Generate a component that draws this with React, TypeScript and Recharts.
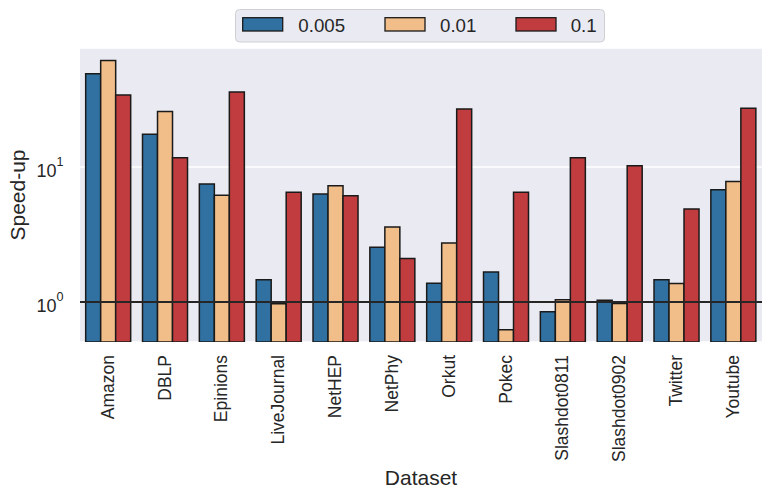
import React from 'react';
import { BarChart, Bar, XAxis, YAxis, CartesianGrid, ReferenceLine, Legend } from 'recharts';

const categories = ['Amazon', 'DBLP', 'Epinions', 'LiveJournal', 'NetHEP', 'NetPhy', 'Orkut', 'Pokec', 'Slashdot0811', 'Slashdot0902', 'Twitter', 'Youtube'];
const s005 = [49.1, 17.5, 7.48, 1.46, 6.31, 2.55, 1.38, 1.67, 0.848, 1.03, 1.46, 6.79];
const s01 = [61.3, 25.7, 6.17, 0.97, 7.27, 3.59, 2.74, 0.624, 1.04, 0.977, 1.37, 7.79];
const s1 = [34.1, 11.7, 35.9, 6.49, 6.13, 2.1, 26.9, 6.49, 11.7, 10.2, 4.89, 27.2];
const seriesNames = ['0.005', '0.01', '0.1'];
const seriesColors = ['#3071A1', '#F1BD89', '#C03C3F'];
const yTicks = [1, 10];
const yTickExp = ['0', '1'];

const data = categories.map((c, i) => ({ name: c, a: s005[i], b: s01[i], c: s1[i] }));

const FONT = '"Liberation Sans", Arial, sans-serif';
const TXT = '#262626';

const YTick = (props: any) => {
  const { y, payload } = props;
  const idx = yTicks.indexOf(payload.value);
  return (
    <text x={63.5} y={y + 9.7} textAnchor="end" fontFamily={FONT} fill={TXT}>
      <tspan fontSize={18}>10</tspan>
      <tspan fontSize={12.6} dy={-11}>{yTickExp[idx]}</tspan>
    </text>
  );
};

const XTick = (props: any) => {
  const { x, payload } = props;
  return (
    <text
      transform={`translate(${x},355) rotate(-90)`}
      textAnchor="end"
      dy="0.3em"
      fontSize={17.5}
      fontFamily={FONT}
      fill={TXT}
    >
      {payload.value}
    </text>
  );
};

const LegendContent = (props: any) => {
  const payload = props.payload || [];
  const sw = [7.7, 150, 281];
  const tx = [63.3, 205, 335.7];
  return (
    <svg width={371} height={34} style={{ display: 'block' }}>
      <rect x={0.5} y={0.5} width={369} height={32.5} rx={4} fill="#EAEAF2" stroke="#cfcfd4" />
      {payload.map((p: any, i: number) => (
        <g key={i}>
          <rect x={sw[i]} y={8.7} width={40} height={13.3} fill={p.color} stroke="#1a1a1a" strokeWidth={1.3} />
          <text x={tx[i]} y={22.7} fontSize={18.7} fontFamily={FONT} fill={TXT}>{p.value}</text>
        </g>
      ))}
    </svg>
  );
};

export default function App() {
  return (
    <div style={{ position: 'absolute', left: 0, top: 0, background: '#ffffff' }}>
      <BarChart
        width={772}
        height={499}
        data={data}
        margin={{ top: 48, right: 10, left: 0, bottom: 0 }}
        barCategoryGap="10%"
        barGap={0}
      >
        <CartesianGrid vertical={false} stroke="#ffffff" strokeWidth={1.5} fill="#EAEAF2" />
        <XAxis
          dataKey="name"
          height={157}
          tickLine={false}
          axisLine={false}
          interval={0}
          tick={<XTick />}
          label={{
            content: (p: any) => (
              <text x={421} y={485} textAnchor="middle" fontSize={21} fontFamily={FONT} fill={TXT}>Dataset</text>
            ),
          }}
        />
        <YAxis
          width={80}
          scale="log"
          type="number"
          domain={[0.506, 76]}
          allowDataOverflow
          ticks={yTicks}
          tickLine={false}
          axisLine={false}
          tick={<YTick />}
          label={{
            content: (p: any) => (
              <text
                transform="translate(25,195) rotate(-90)"
                textAnchor="middle"
                fontSize={21}
                fontFamily={FONT}
                fill={TXT}
              >
                Speed-up
              </text>
            ),
          }}
        />
        <Legend
          layout="vertical"
          align="center"
          verticalAlign="middle"
          wrapperStyle={{ left: 235, top: 9, width: 371, height: 34 }}
          content={<LegendContent />}
        />
        <Bar dataKey="a" name={seriesNames[0]} fill={seriesColors[0]} stroke="#1a1a1a" strokeWidth={1.5} isAnimationActive={false} />
        <Bar dataKey="b" name={seriesNames[1]} fill={seriesColors[1]} stroke="#1a1a1a" strokeWidth={1.5} isAnimationActive={false} />
        <Bar dataKey="c" name={seriesNames[2]} fill={seriesColors[2]} stroke="#1a1a1a" strokeWidth={1.5} isAnimationActive={false} />
        <ReferenceLine y={1} stroke="#262626" strokeWidth={2} />
      </BarChart>
    </div>
  );
}
